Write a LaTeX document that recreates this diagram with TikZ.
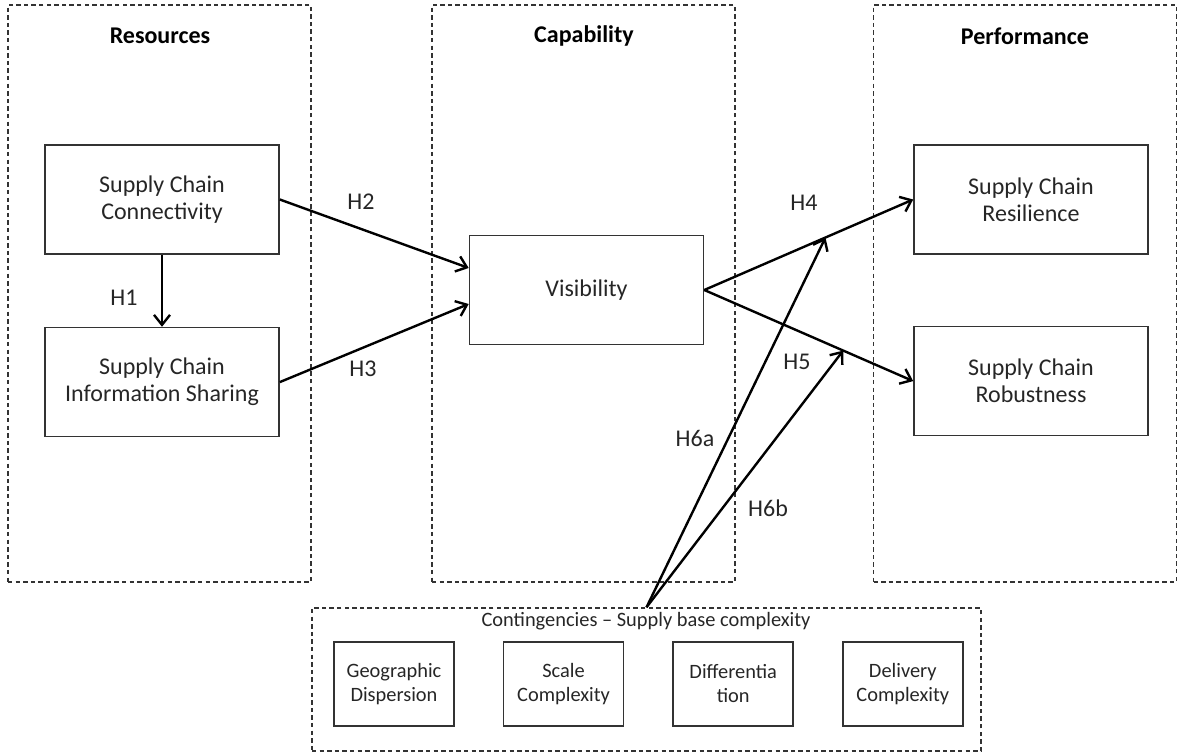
\documentclass[tikz,border=0pt]{standalone}
\usepackage{fontspec}
\setmainfont{Carlito}
\usetikzlibrary{positioning}
\usetikzlibrary{arrows.meta}
\tikzset{
    every picture/.append style={
        >={Straight Barb[length=5pt,width=8pt]}
    }
}
\tikzset{
    group/.style={draw=black!80, dash pattern=on 2.2pt off 1.6pt, line width=0.7pt, minimum width=151.5pt, minimum height=288.5pt, inner sep=0pt},
    construct/.style={draw=black!80, line width=0.8pt, minimum width=117pt, minimum height=54.5pt, align=center, text=black!85, font=\fontsize{12}{13.5}\selectfont},
    factor/.style={draw=black!80, line width=0.8pt, minimum width=60pt, minimum height=42pt, align=center, text=black!85, font=\fontsize{10.2}{12}\selectfont},
    heading/.style={font=\bfseries\fontsize{12}{14}\selectfont},
    hyp/.style={text=black!85, font=\fontsize{12}{14}\selectfont},
    link/.style={->, line width=1.2pt},
}

\begin{document}
\begin{tikzpicture}[x=0.5pt, y=-0.5pt]
		\useasboundingbox (0,0) rectangle (1180,755);
		% dashed groups
		\node[group] (res) at (159.5,293.5) {};
		\node[group] (cap) at (583.5,293.5) {};
		\node[group] (perf) at (1025,293.5) {};
		\node[group, minimum width=334.5pt, minimum height=71.5pt] (cont) at (646.5,679.5) {};
		
		\node[heading] (resT) at (160,36) {Resources};
		\node[heading] (capT) at (584,36) {Capability};
		\node[heading] (perfT) at (1025,36) {Performance};
		\node[text=black!85, font=\fontsize{10.2}{12}\selectfont] (contT) at (646,621) {Contingencies – Supply base complexity};
		
		% constructs
		\node[construct] (conn) at (162,199.5) {Supply Chain\\Connectivity};
		\node[construct, below=36pt of conn] (info) {Supply Chain\\Information Sharing};
		\node[construct] (vis) at (586.5,290) {Visibility};
		\node[construct] (resil) at (1031,199.5) {Supply Chain\\Resilience};
		\node[construct, below=35.5pt of resil] (robust) {Supply Chain\\Robustness};
		
		% contingency factors
		\node[factor] (geo) at (394,684) {Geographic\\Dispersion};
		\node[factor, right=24pt of geo] (scale) {Scale\\Complexity};
		\node[factor, right=24pt of scale] (diff) {Differentia\\tion};
		\node[factor, right=24pt of diff] (deliv) {Delivery\\Complexity};
		
		% hypotheses
		\draw[link] (conn) -- (info);
		\draw[link] (conn.east) -- ([yshift=11pt]vis.west);
		\draw[link] (info.east) -- ([yshift=-7pt]vis.west);
		\draw[link] (vis.east) -- (resil.west) coordinate[pos=0.58] (hitA);
		\draw[link] (vis.east) -- (robust.west) coordinate[pos=0.665] (hitB);
		\draw[link] (cont.north) -- (hitA);
		\draw[link] (cont.north) -- (hitB);
		
		\node[hyp] (h1) at (124,298) {H1};
		\node[hyp] (h2) at (361,202) {H2};
		\node[hyp] (h3) at (363,369) {H3};
		\node[hyp] (h4) at (804,203) {H4};
		\node[hyp] (h5) at (797,362) {H5};
		\node[hyp] (h6a) at (695,438) {H6a};
		\node[hyp] (h6b) at (768,508) {H6b};
		\end{tikzpicture}
\end{document}
